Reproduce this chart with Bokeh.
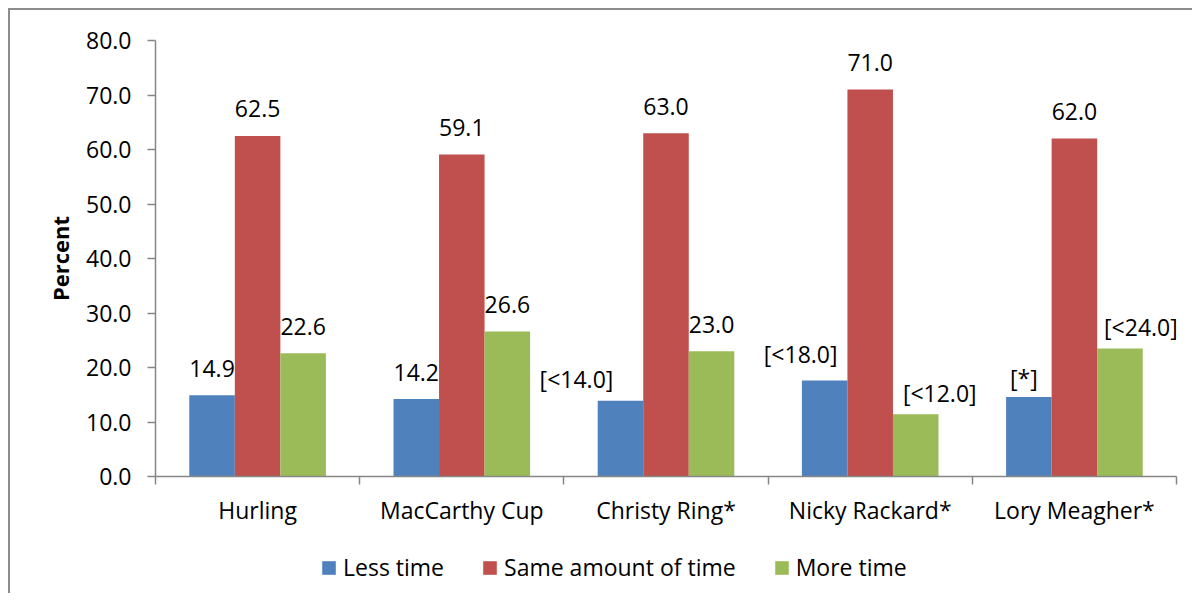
from bokeh.plotting import figure
from bokeh.layouts import column
from bokeh.models import (ColumnDataSource, Range1d, FixedTicker, NumeralTickFormatter,
                          Legend, LegendItem)
from bokeh.transform import dodge
from bokeh.core.properties import value
from bokeh.embed import file_html
from bokeh.resources import INLINE

# ---- data ----
categories = ["Hurling", "MacCarthy Cup", "Christy Ring*", "Nicky Rackard*", "Lory Meagher*"]
series_names = ["Less time", "Same amount of time", "More time"]
less_time = [14.9, 14.2, 13.9, 17.6, 14.6]
same_time = [62.5, 59.1, 63.0, 71.0, 62.0]
more_time = [22.6, 26.6, 23.0, 11.4, 23.5]
less_labels = ["14.9", "14.2", "[<14.0]", "[<18.0]", "[*]"]
same_labels = ["62.5", "59.1", "63.0", "71.0", "62.0"]
more_labels = ["22.6", "26.6", "23.0", "[<12.0]", "[<24.0]"]
y_ticks = [0, 10, 20, 30, 40, 50, 60, 70, 80]

# label nudges (pixels) - style only
less_dx = [0, 0, -44, -24, -5]
less_dy = [27, 27, 22, 27, 19]
same_dx = [0, 0, 0, 0, 0]
same_dy = [27, 27, 27, 27, 27]
more_dx = [0, 0, 0, 24, 21]
more_dy = [27, 27, 27, 21, 21]

colors = ["#4F81BD", "#C0504D", "#9BBB59"]
FONT = "Open Sans"
GRAY = "#868686"
FS = "23px"

n = len(categories)
xs = list(range(n))
bw = 0.223
offsets = [-bw, 0.0, bw]

p = figure(width=1182, height=518, output_backend="svg", toolbar_location=None,
           x_range=Range1d(-0.5, n - 0.5), y_range=Range1d(0, 80),
           min_border_left=145, min_border_right=16, min_border_top=30, min_border_bottom=50)
p.outline_line_color = None
p.grid.grid_line_color = None
p.background_fill_color = "white"
p.border_fill_color = "white"

vals = [less_time, same_time, more_time]
labs = [less_labels, same_labels, more_labels]
dxs = [less_dx, same_dx, more_dx]
dys = [less_dy, same_dy, more_dy]

sources = []
for i in range(3):
    src = ColumnDataSource(dict(x=xs, top=vals[i], label=labs[i], dx=dxs[i],
                                dy=[-d for d in dys[i]]))
    sources.append(src)
    p.vbar(x=dodge("x", offsets[i], range=p.x_range), top="top", bottom=0, width=bw,
           source=src, fill_color=colors[i], line_color=None)
    p.text(x=dodge("x", offsets[i], range=p.x_range), y="top", text="label", source=src,
           x_offset="dx", y_offset="dy", text_align="center", text_baseline="middle",
           text_font=value(FONT), text_font_size=FS, text_color="black")

# y axis
yax = p.yaxis[0]
yax.ticker = FixedTicker(ticks=y_ticks, minor_ticks=[])
yax.formatter = NumeralTickFormatter(format="0.0")
yax.axis_line_color = GRAY
yax.axis_line_width = 1.5
yax.major_tick_line_color = GRAY
yax.major_tick_line_width = 1.5
yax.major_tick_out = 8
yax.major_tick_in = 0
yax.minor_tick_line_color = None
yax.major_label_text_font = FONT
yax.major_label_text_font_size = FS
yax.major_label_text_color = "black"
yax.major_label_standoff = 16
yax.axis_label = "Percent"
yax.axis_label_text_font = FONT
yax.axis_label_text_font_style = "bold"
yax.axis_label_text_font_size = "22px"
yax.axis_label_text_color = "black"
yax.axis_label_standoff = 8

# x axis: labels at category centres, separator ticks at boundaries
xax = p.xaxis[0]
xax.ticker = FixedTicker(ticks=xs, minor_ticks=[i - 0.5 for i in range(n + 1)])
xax.major_label_overrides = {i: c for i, c in enumerate(categories)}
xax.axis_line_color = GRAY
xax.axis_line_width = 1.5
xax.major_tick_line_color = None
xax.major_tick_out = 8
xax.minor_tick_line_color = GRAY
xax.minor_tick_line_width = 1.5
xax.minor_tick_out = 8
xax.minor_tick_in = 0
xax.major_label_text_font = FONT
xax.major_label_text_font_size = FS
xax.major_label_text_color = "black"
xax.major_label_standoff = 9

# ---- legend strip (its bars lie far outside its view; only the legend shows) ----
q = figure(width=1182, height=65, output_backend="svg", toolbar_location=None,
           x_range=Range1d(-0.5, n - 0.5), y_range=Range1d(1000, 1001),
           min_border_left=0, min_border_right=0, min_border_top=0, min_border_bottom=0)
q.axis.visible = False
q.grid.grid_line_color = None
q.outline_line_color = None
q.border_fill_color = "white"
leg_renderers = []
for i in range(3):
    r = q.vbar(x="x", top="top", bottom=0, width=bw, source=sources[i],
               fill_color=colors[i], line_color=None)
    leg_renderers.append(r)
legend = Legend(items=[LegendItem(label=series_names[i], renderers=[leg_renderers[i]]) for i in range(3)],
                orientation="horizontal", location=(165, 10),
                glyph_width=17, glyph_height=17, label_standoff=6, spacing=37,
                padding=0, margin=0, border_line_color=None, background_fill_alpha=0,
                label_text_font=FONT, label_text_font_size=FS, label_text_color="black")
q.add_layout(legend, "center")

layout = column(p, q, spacing=0,
                styles={"border-top": "2px solid #8c8c8c", "border-left": "2px solid #8c8c8c",
                        "margin-left": "8px", "margin-top": "8px"})

open("out.html", "w").write(file_html(layout, INLINE))
